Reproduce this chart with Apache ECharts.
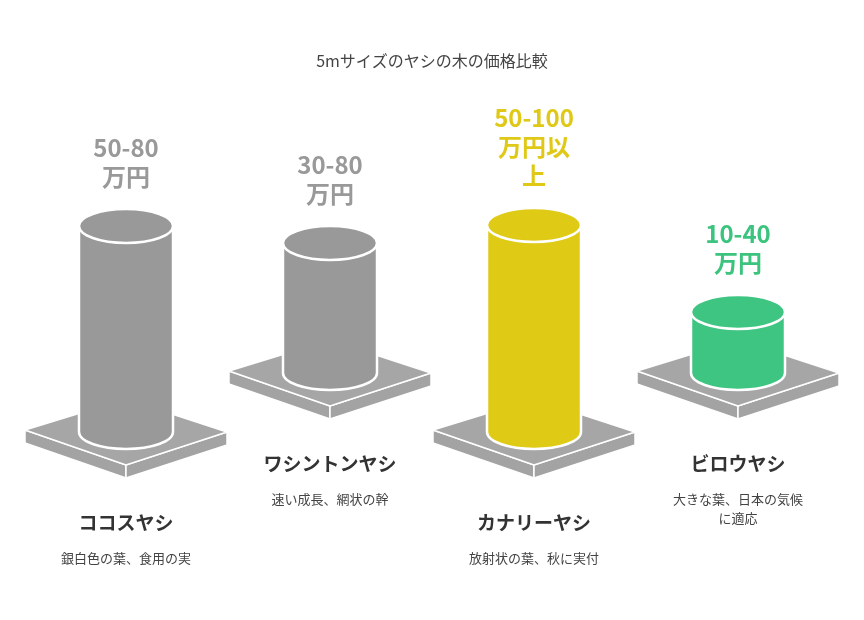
<!DOCTYPE html>
<html>
<head>
<meta charset="utf-8">
<script src="https://cdn.jsdelivr.net/npm/echarts@6/dist/echarts.min.js"></script>
<style>html,body{margin:0;background:#fff}#main{width:864px;height:620px}</style>
</head>
<body>
<div id="main"></div>
<script>
var names = ['ココスヤシ', 'ワシントンヤシ', 'カナリーヤシ', 'ビロウヤシ'];
var priceLabels = ['50-80\n万円', '30-80\n万円', '50-100\n万円以\n上', '10-40\n万円'];
var notes = ['銀白色の葉、食用の実', '速い成長、網状の幹', '放射状の葉、秋に実付', '大きな葉、日本の気候\nに適応'];
var heights = [206, 130, 207, 61];
var colors = ['#999999', '#999999', '#dfca16', '#3dc581'];
var labelColors = ['#999999', '#999999', '#dfc916', '#3cc47f'];

var chart = echarts.init(document.getElementById('main'));
var FONT = '"Noto Sans CJK JP", Roboto, sans-serif';

function renderItem(params, api) {
  var i = params.dataIndex;
  var lift = i % 2 === 1 ? 59 : 0;   // back row sits higher
  var base = api.coord([i, 0]);
  var top = api.coord([i, api.value(1)]);
  var cx = base[0], by = base[1] - lift, ty = top[1] - lift;
  var rx = 47, ry = 17, pw = 101, ph = 32, th = 13;
  var kids = [];
  // plate sides
  kids.push({type: 'polygon', shape: {points: [[cx - pw, by - 2], [cx, by + ph + 1], [cx, by + ph + 1 + th], [cx - pw, by - 2 + th]]},
    style: {fill: '#a3a3a3', stroke: '#fff', lineWidth: 1.5}});
  kids.push({type: 'polygon', shape: {points: [[cx, by + ph + 1], [cx + pw, by], [cx + pw, by + th], [cx, by + ph + 1 + th]]},
    style: {fill: '#a3a3a3', stroke: '#fff', lineWidth: 1.5}});
  kids.push({type: 'polygon', shape: {points: [[cx - pw, by - 2], [cx, by - ph - 1], [cx + pw, by], [cx, by + ph + 1]]},
    style: {fill: '#a6a6a6', stroke: '#fff', lineWidth: 1.5}});
  // cylinder
  var body = 'M' + (cx - rx) + ' ' + ty + ' L' + (cx - rx) + ' ' + by +
    ' A' + rx + ' ' + ry + ' 0 0 0 ' + (cx + rx) + ' ' + by +
    ' L' + (cx + rx) + ' ' + ty + ' Z';
  kids.push({type: 'path', shape: {pathData: body}, style: {fill: colors[i], stroke: '#fff', lineWidth: 2.5}});
  kids.push({type: 'ellipse', shape: {cx: cx, cy: ty, rx: rx, ry: ry}, style: {fill: colors[i], stroke: '#fff', lineWidth: 2.5}});
  // price label
  kids.push({type: 'text', x: cx, y: ty - 35, style: {text: priceLabels[i], fill: labelColors[i],
    font: 'bold 24px ' + FONT, lineHeight: 29, align: 'center', verticalAlign: 'bottom'}});
  // name + note
  var ny = by + 91;
  kids.push({type: 'text', x: cx, y: ny, style: {text: names[i], fill: '#333', font: 'bold 19px ' + FONT,
    align: 'center', verticalAlign: 'middle'}});
  kids.push({type: 'text', x: cx, y: ny + 26, style: {text: notes[i], fill: '#444', font: '13px ' + FONT,
    lineHeight: 19, align: 'center', verticalAlign: 'top'}});
  return {type: 'group', children: kids};
}

chart.setOption({
  animation: false,
  title: {text: '5mサイズのヤシの木の価格比較', left: 'center', top: 48,
    textStyle: {fontSize: 16, fontWeight: 'normal', color: '#444', fontFamily: FONT}},
  grid: {left: 24, right: 24, top: 0, bottom: 188},
  xAxis: {type: 'category', data: names, show: false},
  yAxis: {type: 'value', min: 0, max: 432, show: false},
  series: [{
    type: 'custom',
    renderItem: renderItem,
    data: heights.map(function (h, i) { return [i, h]; })
  }]
});
</script>
</body>
</html>
